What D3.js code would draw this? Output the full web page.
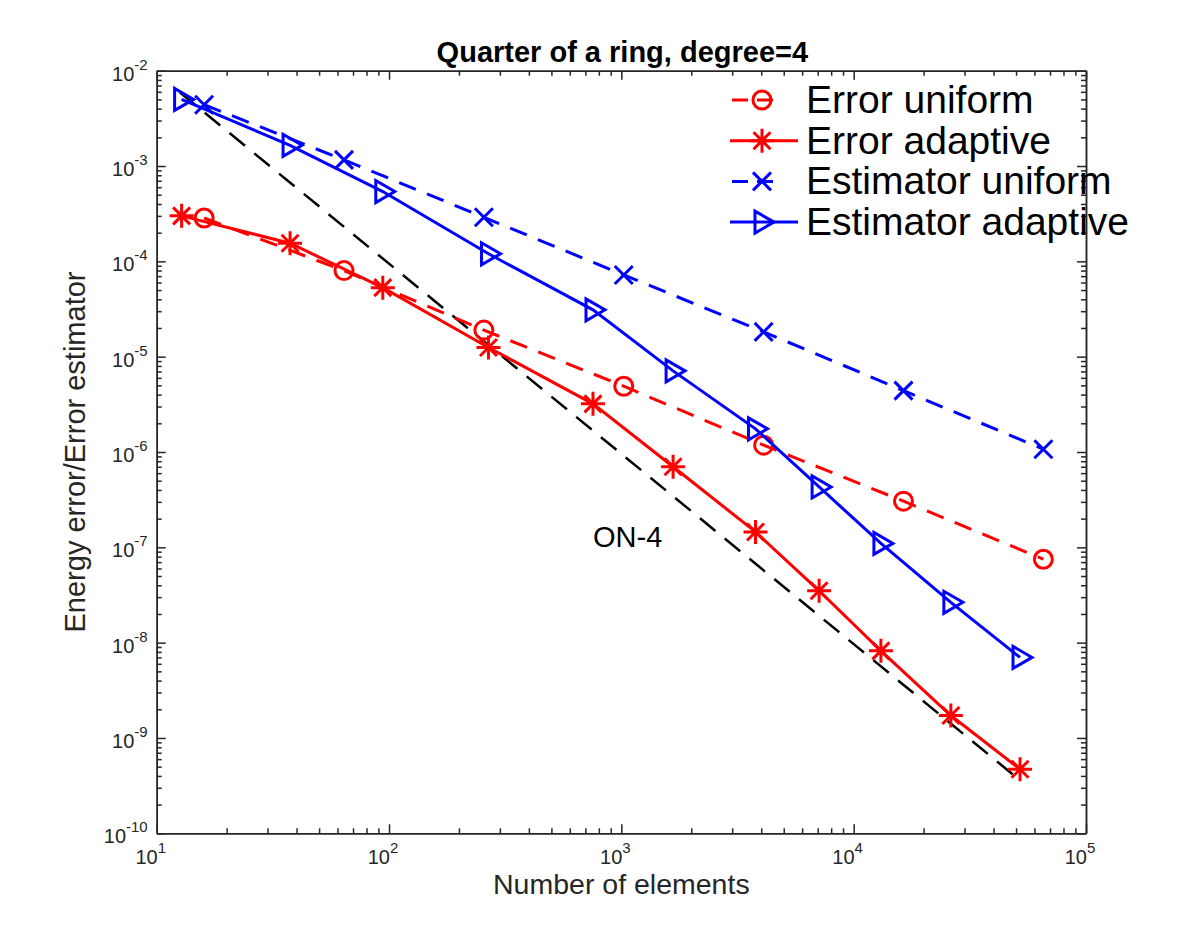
<!DOCTYPE html>
<meta charset="utf-8">

<!-- Load d3.js -->
<script src="https://d3js.org/d3.v7.min.js"></script>

<style>
  body { margin: 0; background: #fff; }
  text { font-family: "Liberation Sans", Arial, Helvetica, sans-serif; }
</style>

<!-- Create a div where the graph will take place -->
<div id="my_dataviz"></div>

<script>

  // ---- data ----
  var nUniform = [16, 64, 256, 1024, 4096, 16384, 65536];
  var errUniform = [2.85e-4, 8.0e-5, 1.9e-5, 4.9e-6, 1.18e-6, 3.05e-7, 7.5e-8];
  var estUniform = [4.4e-3, 1.16e-3, 2.9e-4, 7.2e-5, 1.82e-5, 4.4e-6, 1.07e-6];

  var nAdaptive = [12.8, 37.5, 94, 268, 755, 1670, 3780, 7100, 13100, 26200, 52000];
  var errAdaptive = [3.0e-4, 1.55e-4, 5.3e-5, 1.25e-5, 3.2e-6, 7.0e-7, 1.45e-7, 3.5e-8, 8.2e-9, 1.72e-9, 4.7e-10];
  var estAdaptive = [5.0e-3, 1.65e-3, 5.4e-4, 1.2e-4, 3.1e-5, 7.1e-6, 1.75e-6, 4.3e-7, 1.1e-7, 2.65e-8, 7.0e-9];

  // reference slope line O(N^-2)  (labelled ON-4)
  var refN = [12.6, 52000];
  var refVal = [5.9e-3, 3.6e-10];
  var refLabel = "ON-4";
  var refLabelAt = [755, 1.0e-7];

  var xExponents = [1, 2, 3, 4, 5];
  var yExponents = [-10, -9, -8, -7, -6, -5, -4, -3, -2];

  var legendLabels = ["Error uniform", "Error adaptive", "Estimator uniform", "Estimator adaptive"];

  // set the dimensions and margins of the graph
  var margin = { top: 70.7, right: 114, bottom: 104.7, left: 156.7 },
    width = 1200 - margin.left - margin.right,
    height = 938 - margin.top - margin.bottom;

  var root = d3.select("#my_dataviz")
    .append("svg")
    .attr("width", 1200)
    .attr("height", 938);

  root.append("rect")
    .attr("width", 1200)
    .attr("height", 938)
    .style("fill", "#fff");

  var svg = root.append("g")
    .attr("transform", "translate(" + margin.left + "," + margin.top + ")");

  var x = d3.scaleLog()
    .domain([10, 1e5])
    .range([0, width]);

  var y = d3.scaleLog()
    .domain([1e-10, 1e-2])
    .range([height, 0]);

  // major / minor tick values
  var xMajor = xExponents.map(function (e) { return Math.pow(10, e); });
  var yMajor = yExponents.map(function (e) { return Math.pow(10, e); });
  function minors(exps) {
    var out = [];
    exps.slice(0, -1).forEach(function (e) {
      for (var k = 2; k <= 9; k++) out.push(k * Math.pow(10, e));
    });
    return out;
  }
  var xMinor = minors(xExponents);
  var yMinor = minors(yExponents);

  var axisColor = "#262626";

  function styleAxis(g) {
    g.selectAll("path.domain").attr("stroke", axisColor).attr("stroke-width", 1.5);
    g.selectAll(".tick line").attr("stroke", axisColor).attr("stroke-width", 1.5);
  }

  // ticks point inward on all four sides (box on)
  var axes = [
    { gen: d3.axisBottom, scale: x, tr: "translate(0," + height + ")" },
    { gen: d3.axisTop, scale: x, tr: "translate(0,0)" },
    { gen: d3.axisLeft, scale: y, tr: "translate(0,0)" },
    { gen: d3.axisRight, scale: y, tr: "translate(" + width + ",0)" }
  ];
  axes.forEach(function (a) {
    var isX = a.scale === x;
    svg.append("g")
      .attr("transform", a.tr)
      .call(a.gen(a.scale).tickValues(isX ? xMinor : yMinor).tickSize(-5).tickSizeOuter(0).tickFormat(""))
      .call(styleAxis);
    svg.append("g")
      .attr("transform", a.tr)
      .call(a.gen(a.scale).tickValues(isX ? xMajor : yMajor).tickSize(-9).tickSizeOuter(0).tickFormat(""))
      .call(styleAxis);
  });

  // power-of-ten tick labels
  var xLab = svg.append("g").selectAll("text")
    .data(xExponents)
    .enter()
    .append("text")
    .attr("x", function (d) { return x(Math.pow(10, d)) - 6; })
    .attr("y", height + 31)
    .attr("text-anchor", "middle")
    .style("font-size", "20px")
    .style("fill", axisColor);
  xLab.append("tspan").text("10");
  xLab.append("tspan").attr("dy", -11).style("font-size", "15px").text(function (d) { return d; });

  var yLab = svg.append("g").selectAll("text")
    .data(yExponents)
    .enter()
    .append("text")
    .attr("x", -9)
    .attr("y", function (d) { return y(Math.pow(10, d)) + 10; })
    .attr("text-anchor", "end")
    .style("font-size", "20px")
    .style("fill", axisColor);
  yLab.append("tspan").text("10");
  yLab.append("tspan").attr("dy", -11).style("font-size", "15px").text(function (d) { return d; });

  // axis labels and title
  svg.append("text")
    .attr("text-anchor", "middle")
    .attr("x", width / 2)
    .attr("y", height + 61)
    .style("font-size", "28.5px")
    .style("fill", axisColor)
    .text("Number of elements");

  svg.append("text")
    .attr("text-anchor", "middle")
    .attr("transform", "rotate(-90)")
    .attr("x", -height / 2)
    .attr("y", -72)
    .style("font-size", "29px")
    .style("fill", axisColor)
    .text("Energy error/Error estimator");

  svg.append("text")
    .attr("text-anchor", "middle")
    .attr("x", width / 2 + 1)
    .attr("y", -9)
    .style("font-size", "29px")
    .style("font-weight", "bold")
    .style("fill", "#000")
    .text("Quarter of a ring, degree=4");

  // marker shapes
  function markerPath(kind) {
    if (kind === "o") return null;
    if (kind === "x") return "M-9,-9L9,9M-9,9L9,-9";
    if (kind === "*") return "M0,-12V12M-12,0H12M-8.5,-8.5L8.5,8.5M-8.5,8.5L8.5,-8.5";
    if (kind === ">") return "M-7,-11L-7,11L12,0Z";
  }

  var series = [
    { xs: nUniform, ys: errUniform, color: "#ff0000", dash: "18,12", marker: "o" },
    { xs: nAdaptive, ys: errAdaptive, color: "#ff0000", dash: null, marker: "*" },
    { xs: nUniform, ys: estUniform, color: "#0000ff", dash: "18,12", marker: "x" },
    { xs: nAdaptive, ys: estAdaptive, color: "#0000ff", dash: null, marker: ">" }
  ];

  var line = d3.line()
    .x(function (d) { return x(d[0]); })
    .y(function (d) { return y(d[1]); });

  // reference line
  svg.append("path")
    .datum(d3.zip(refN, refVal))
    .attr("d", line)
    .attr("fill", "none")
    .attr("stroke", "#000")
    .attr("stroke-width", 2.5)
    .attr("stroke-dasharray", "20,12");

  svg.append("text")
    .attr("x", x(refLabelAt[0]))
    .attr("y", y(refLabelAt[1]))
    .style("font-size", "29px")
    .style("fill", "#000")
    .text(refLabel);

  function drawMarker(g, kind, color) {
    if (kind === "o") {
      g.append("circle").attr("r", 9).attr("fill", "none")
        .attr("stroke", color).attr("stroke-width", 3);
    } else {
      g.append("path").attr("d", markerPath(kind)).attr("fill", "none")
        .attr("stroke", color).attr("stroke-width", 3);
    }
  }

  series.forEach(function (s) {
    var pts = d3.zip(s.xs, s.ys);
    svg.append("path")
      .datum(pts)
      .attr("d", line)
      .attr("fill", "none")
      .attr("stroke", s.color)
      .attr("stroke-width", 3)
      .attr("stroke-dasharray", s.dash);
    svg.append("g")
      .selectAll("g")
      .data(pts)
      .enter()
      .append("g")
      .attr("transform", function (d) { return "translate(" + x(d[0]) + "," + y(d[1]) + ")"; })
      .each(function () { drawMarker(d3.select(this), s.marker, s.color); });
  });

  // legend (no box)
  var legend = svg.append("g")
    .attr("transform", "translate(" + (730 - margin.left) + "," + (100 - margin.top) + ")");

  series.forEach(function (s, i) {
    var row = legend.append("g").attr("transform", "translate(0," + (i * 40.7) + ")");
    row.append("line")
      .attr("x1", s.dash ? 2 : 0).attr("x2", s.dash ? 52 : 68)
      .attr("y1", 0).attr("y2", 0)
      .attr("stroke", s.color)
      .attr("stroke-width", 3)
      .attr("stroke-dasharray", s.dash ? "16,9" : null);
    var m = row.append("g").attr("transform", "translate(32,0)");
    drawMarker(m, s.marker, s.color);
    row.append("text")
      .attr("x", 76)
      .attr("y", 13)
      .style("font-size", "39px")
      .style("fill", "#000")
      .text(legendLabels[i]);
  });

</script>
